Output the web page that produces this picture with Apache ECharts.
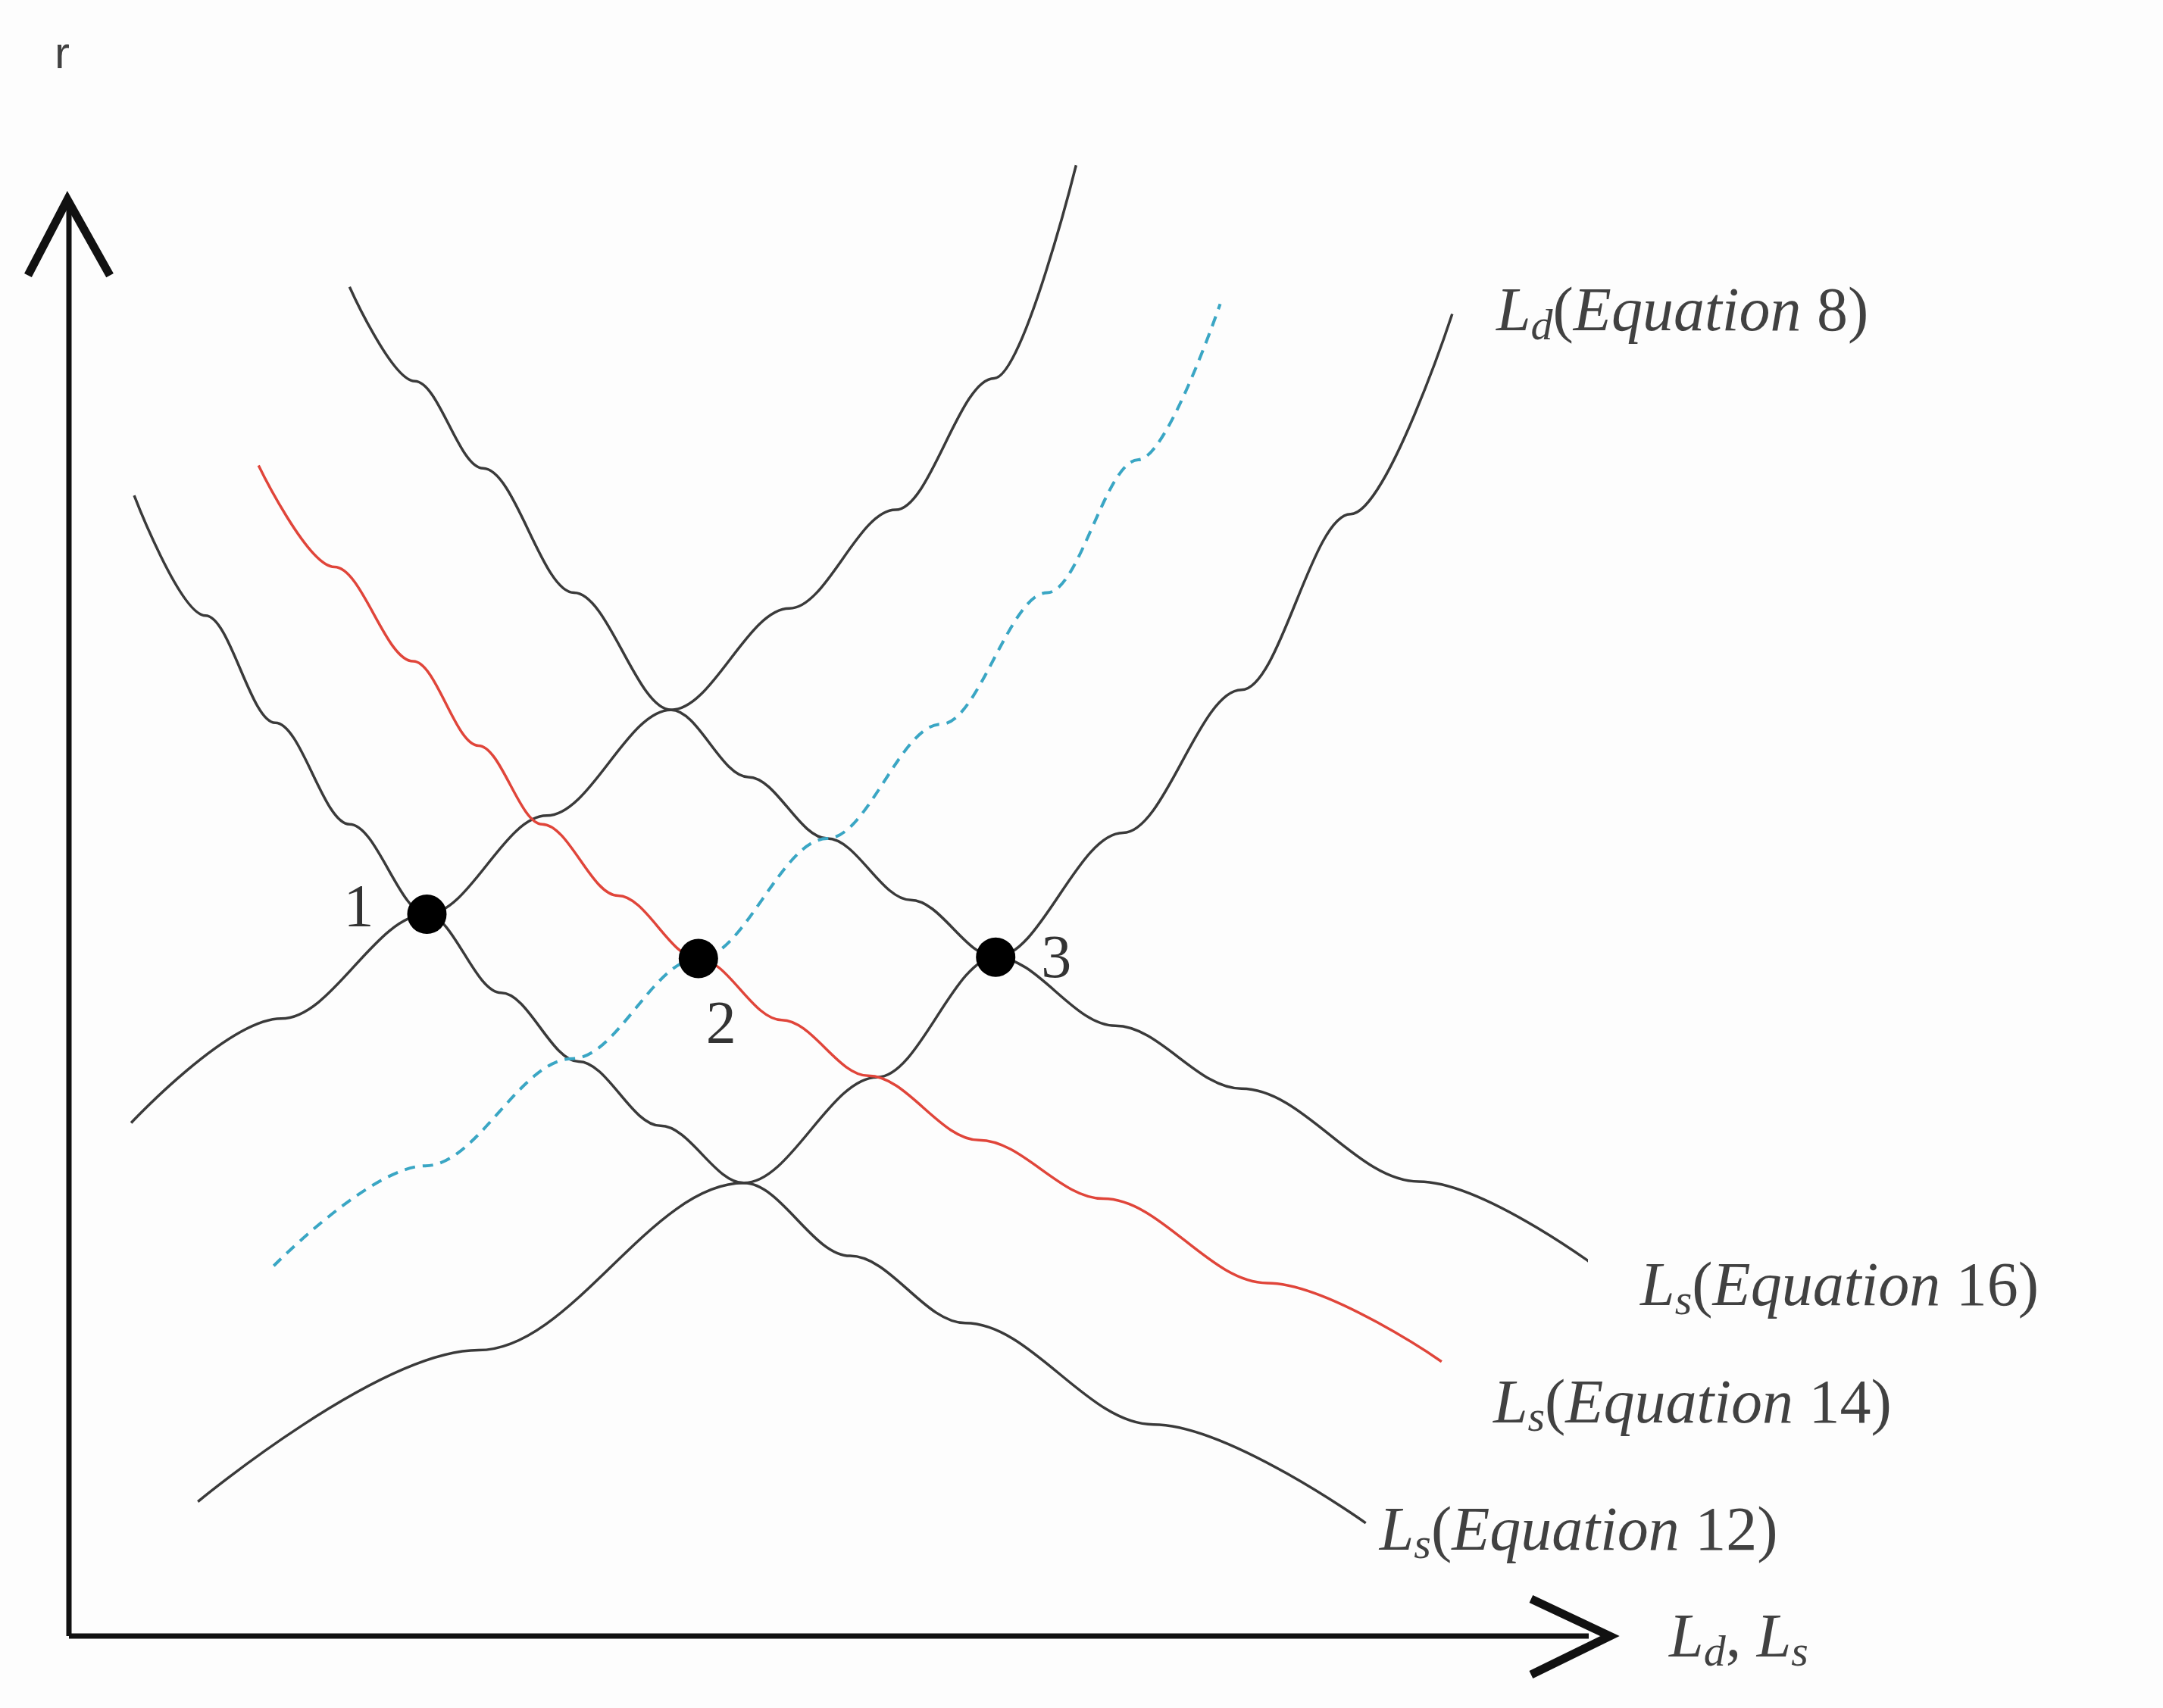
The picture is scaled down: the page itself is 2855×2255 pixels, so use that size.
<!DOCTYPE html><html><head><meta charset="utf-8">
<script src="https://cdn.jsdelivr.net/npm/echarts@6/dist/echarts.min.js"></script>
<style>html,body{margin:0;background:#fdfdfd}#c{width:2855px;height:2255px}</style></head><body><div id="c"></div>
<script>
const ldEq8a = [[4.1,35.9],[14,43.2],[23.6,50.5],[31.5,57.4],[39.7,64.8],[47.5,71.9],[54.5,78.8],[61,88],[66.4,102.9]];
const ldDashed = [[13.5,25.9],[23.5,32.9],[33.2,40.4],[41.5,47.4],[50,55.8],[57.5,63.8],[64.5,73],[70.5,82.3],[75.9,93.2]];
const ldEq8 = [[8.5,9.4],[27,20],[44.5,31.7],[53.3,39.1],[61.1,47.5],[69.5,56.2],[77.3,66.2],[84.5,78.5],[91.2,92.5]];
const lsEq12 = [[4.3,79.8],[9,71.4],[13.6,63.9],[18.5,56.8],[23.6,50.5],[28.5,45],[33.6,40.2],[39,35.7],[44.5,31.7],[51.5,26.6],[59.1,21.9],[71.5,14.8],[85.5,7.9]];
const lsEq14 = [[12.5,81.9],[17.5,74.8],[22.7,68.2],[27,62.3],[31.2,56.8],[36.2,51.8],[41.5,47.4],[47,43.1],[52.7,39.2],[60,34.7],[68.2,30.6],[79,24.7],[90.5,19.2]];
const lsEq16 = [[18.5,94.4],[22.8,87.8],[27.3,81.7],[33.3,73],[39.7,64.8],[44.8,60.1],[50,55.8],[55.5,51.5],[61.1,47.5],[69,42.7],[77.3,38.3],[89,31.8],[101.4,25.3]];
const equilibria = [[23.6,50.5,'1'],[41.5,47.4,'2'],[61.1,47.5,'3']];
const curveLabels = [
  [94.1,92.5,'{i|L}{s|d}{n|(}{i|Equation}{n| 8)}'],
  [103.6,24.3,'{i|L}{s|s}{n|(}{i|Equation}{n| 16)}'],
  [93.9,16.1,'{i|L}{s|s}{n|(}{i|Equation}{n| 14)}'],
  [86.4,7.2,'{i|L}{s|s}{n|(}{i|Equation}{n| 12)}'],
  [105.5,-0.3,'{i|L}{s|d}{n|, }{i|L}{s|s}']
];
const axisY = [[0,0],[0,100.5]], axisX = [[0,0],[101.6,0]];
const arrowY = [[-2.7,95.2],[-0.1,100.5],[2.7,95.2]];
const arrowX = [[96.4,2.6],[101.6,0],[96.4,-2.7]];
const blk = '#3a3a3a';
function curve(d,color,w,type){return {type:'line',data:d,smooth:0.35,smoothMonotone:'x',symbol:'none',clip:false,lineStyle:{color:color,width:w,type:type||'solid'},z:2};}
const rich = {
  i:{fontFamily:'Liberation Serif',fontStyle:'italic',fontSize:82,color:'#111'},
  s:{fontFamily:'Liberation Serif',fontStyle:'italic',fontSize:58,color:'#111',padding:[36,0,0,0]},
  n:{fontFamily:'Liberation Serif',fontSize:82,color:'#111'}
};
const chart = echarts.init(document.getElementById('c'));
chart.setOption({
  backgroundColor:'#fdfdfd',animation:false,
  grid:{left:91,right:762,top:273,bottom:95},
  xAxis:{type:'value',min:0,max:100,show:false},
  yAxis:{type:'value',min:0,max:100,show:false},
  series:[
    curve(ldEq8a,blk,3.5), curve(ldEq8,blk,3.5), curve(lsEq12,blk,3.5), curve(lsEq16,blk,3.5),
    curve(lsEq14,'#e0453a',3.5), curve(ldDashed,'#3aa6c4',4,[14,10]),
    {type:'line',data:axisY,symbol:'none',clip:false,lineStyle:{color:'#111',width:7}},
    {type:'line',data:axisX,symbol:'none',clip:false,lineStyle:{color:'#111',width:7}},
    {type:'scatter',data:equilibria.map(p=>[p[0],p[1]]),symbolSize:52,itemStyle:{color:'#000',opacity:1},z:5},
    {type:'scatter',data:equilibria.map(p=>({value:[p[0],p[1]],name:p[2]})),symbolSize:0,clip:false,
      label:{show:true,formatter:'{b}',fontFamily:'Liberation Serif',fontSize:80,color:'#000',
        position:'right',distance:0},
      labelLayout:function(p){const n=p.dataIndex;const off=[[-110,-5],[10,90],[60,5]][n];return {dx:off[0],dy:off[1]};}},
    {type:'scatter',data:curveLabels.map(p=>({value:[p[0],p[1]],name:p[2]})),symbolSize:0,clip:false,
      label:{show:true,position:'right',distance:0,formatter:p=>p.name,rich:rich}},
    {type:'scatter',data:[{value:[-0.45,110.6],name:'r'}],symbolSize:0,clip:false,
      label:{show:true,position:'inside',formatter:'r',fontFamily:'Liberation Sans',fontSize:60,color:'#111'}}
  ]
});
function arrow(pts){return {type:'polyline',shape:{points:pts.map(p=>chart.convertToPixel({gridIndex:0},p))},
  style:{stroke:'#111',lineWidth:11,fill:null,lineJoin:'miter'},z:10};}
chart.setOption({graphic:[arrow(arrowY),arrow(arrowX)]});
</script></body></html>
